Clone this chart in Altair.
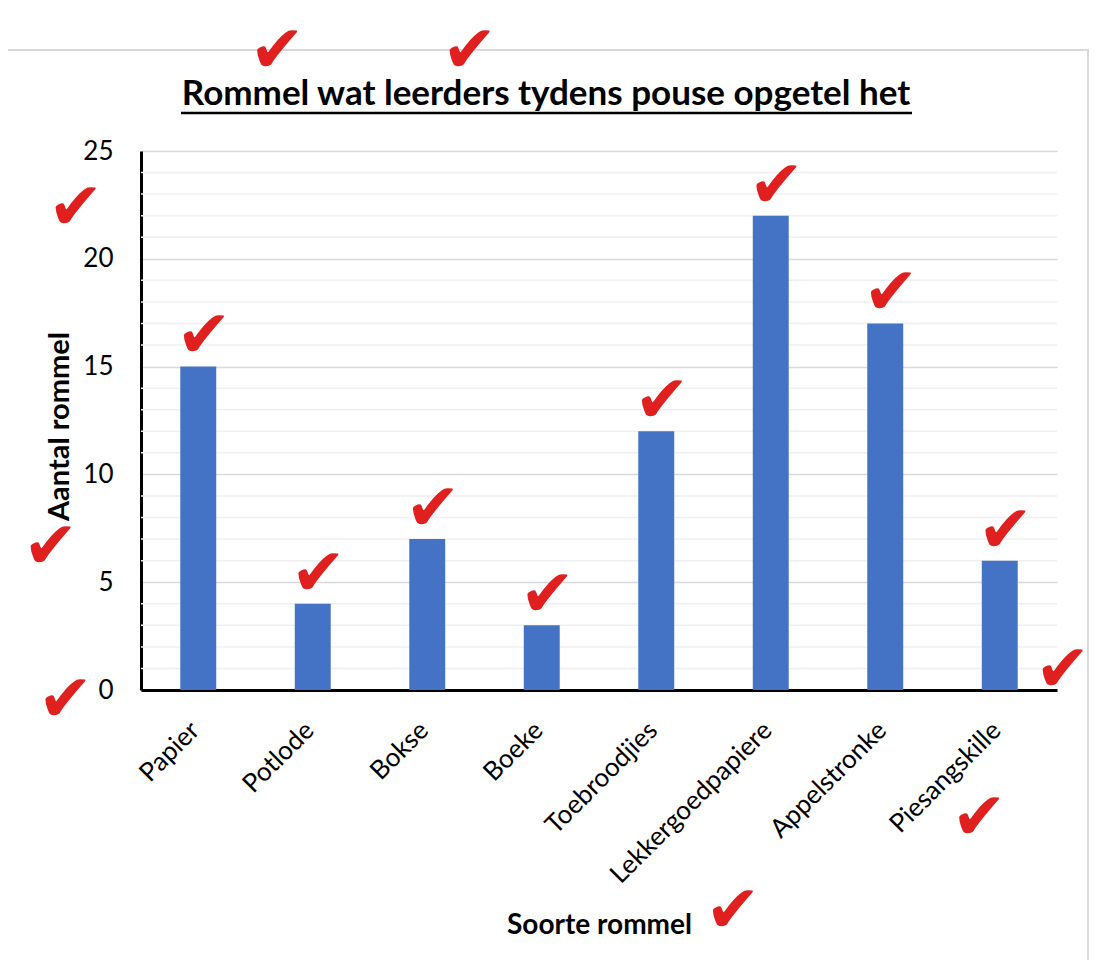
import altair as alt
import pandas as pd

categories = ["Papier", "Potlode", "Bokse", "Boeke", "Toebroodjies",
              "Lekkergoedpapiere", "Appelstronke", "Piesangskille"]
values = [15, 4, 7, 3, 12, 22, 17, 6]
major_ticks = [0, 5, 10, 15, 20, 25]
minor_ticks = [v for v in range(1, 25) if v % 5 != 0]
title_text = "Rommel wat leerders tydens pouse opgetel het"

# loose check marks (category-index units, value units)
check_x = [0.69, 2.37, -1.07, -1.29, -1.16, 7.55, 6.82, 4.67]
check_y = [29.6, 29.6, 22.3, 6.6, -0.5, 0.9, -6.0, -10.3]

FONT = "Lato"
BLUE = "#4472c4"
RED = "#e0201f"
YDOM = [0, 25]

bars_df = pd.DataFrame({"cat": categories, "val": values})
minor_df = pd.DataFrame({"v": minor_ticks})
checks_df = pd.DataFrame({
    "xi": [i + 0.05 for i in range(len(values))] + check_x,
    "yv": [v + 1.35 for v in values] + check_y,
})

y_axis = alt.Axis(title="Aantal rommel", values=major_ticks,
                  labelFont=FONT, labelFontSize=26, labelColor="black",
                  labelPadding=28, ticks=False, domainColor="black",
                  domainWidth=3, gridColor="#d9d9d9", gridWidth=1.5,
                  titleFont=FONT, titleFontSize=29, titleFontWeight="bold",
                  titleColor="black", titleX=-73, titleY=275,
                  titleAngle=-90, titleBaseline="alphabetic",
                  titleAlign="center")
y_scale = alt.Scale(domain=YDOM)

border = alt.Chart(pd.DataFrame({"a": [0]})).mark_rect(
    fill=None, stroke="#d9d9d9", strokeWidth=2, clip=False
).encode(x=alt.value(-137), x2=alt.value(947), y=alt.value(-101), y2=alt.value(900))

minor = alt.Chart(minor_df).mark_rule(color="#efefef", strokeWidth=1.5).encode(
    y=alt.Y("v:Q", scale=y_scale, axis=y_axis)
)

bars = alt.Chart(bars_df).mark_bar(color=BLUE).encode(
    x=alt.X("cat:N", sort=categories,
            scale=alt.Scale(paddingInner=0.686, paddingOuter=0.343),
            axis=alt.Axis(title="Soorte rommel", labelAngle=-45, labelAlign="right",
                          labelBaseline="middle", labelPadding=36, labelOffset=-3,
                          labelFont=FONT, labelFontSize=26, labelColor="black",
                          ticks=False, domainColor="black", domainWidth=3,
                          titleFont=FONT, titleFontSize=28, titleFontWeight="bold",
                          titleColor="black", titleY=243, titleBaseline="alphabetic",
                          labelLimit=400)),
    y=alt.Y("val:Q", scale=y_scale, axis=y_axis),
)

checks = alt.Chart(checks_df).mark_text(
    text="✔", font="DejaVu Sans", fontSize=66, color=RED, clip=False,
    align="center", baseline="middle"
).encode(
    x=alt.X("xi:Q", scale=alt.Scale(domain=[-0.5, 7.5], nice=False, zero=False), axis=None),
    y=alt.Y("yv:Q", scale=y_scale, axis=y_axis),
)

title_df = pd.DataFrame({"t": [title_text]})
title = alt.Chart(title_df).mark_text(
    font=FONT, fontSize=35, fontWeight="bold", color="black",
    align="center", baseline="alphabetic", clip=False
).encode(text="t:N", x=alt.value(405), y=alt.value(-46))

underline = alt.Chart(pd.DataFrame({"a": [0]})).mark_rule(
    color="black", strokeWidth=2.5, clip=False
).encode(x=alt.value(40), x2=alt.value(771), y=alt.value(-38))

chart = alt.layer(border, minor, bars, title, underline, checks).resolve_scale(
    x="independent"
).properties(
    width=916, height=539,
    autosize=alt.AutoSizeParams(type="none"),
    padding={"left": 133, "top": 143, "right": 40, "bottom": 270},
).configure_view(stroke=None)

chart.save("out.html", embed_options={"renderer": "svg", "actions": False})
